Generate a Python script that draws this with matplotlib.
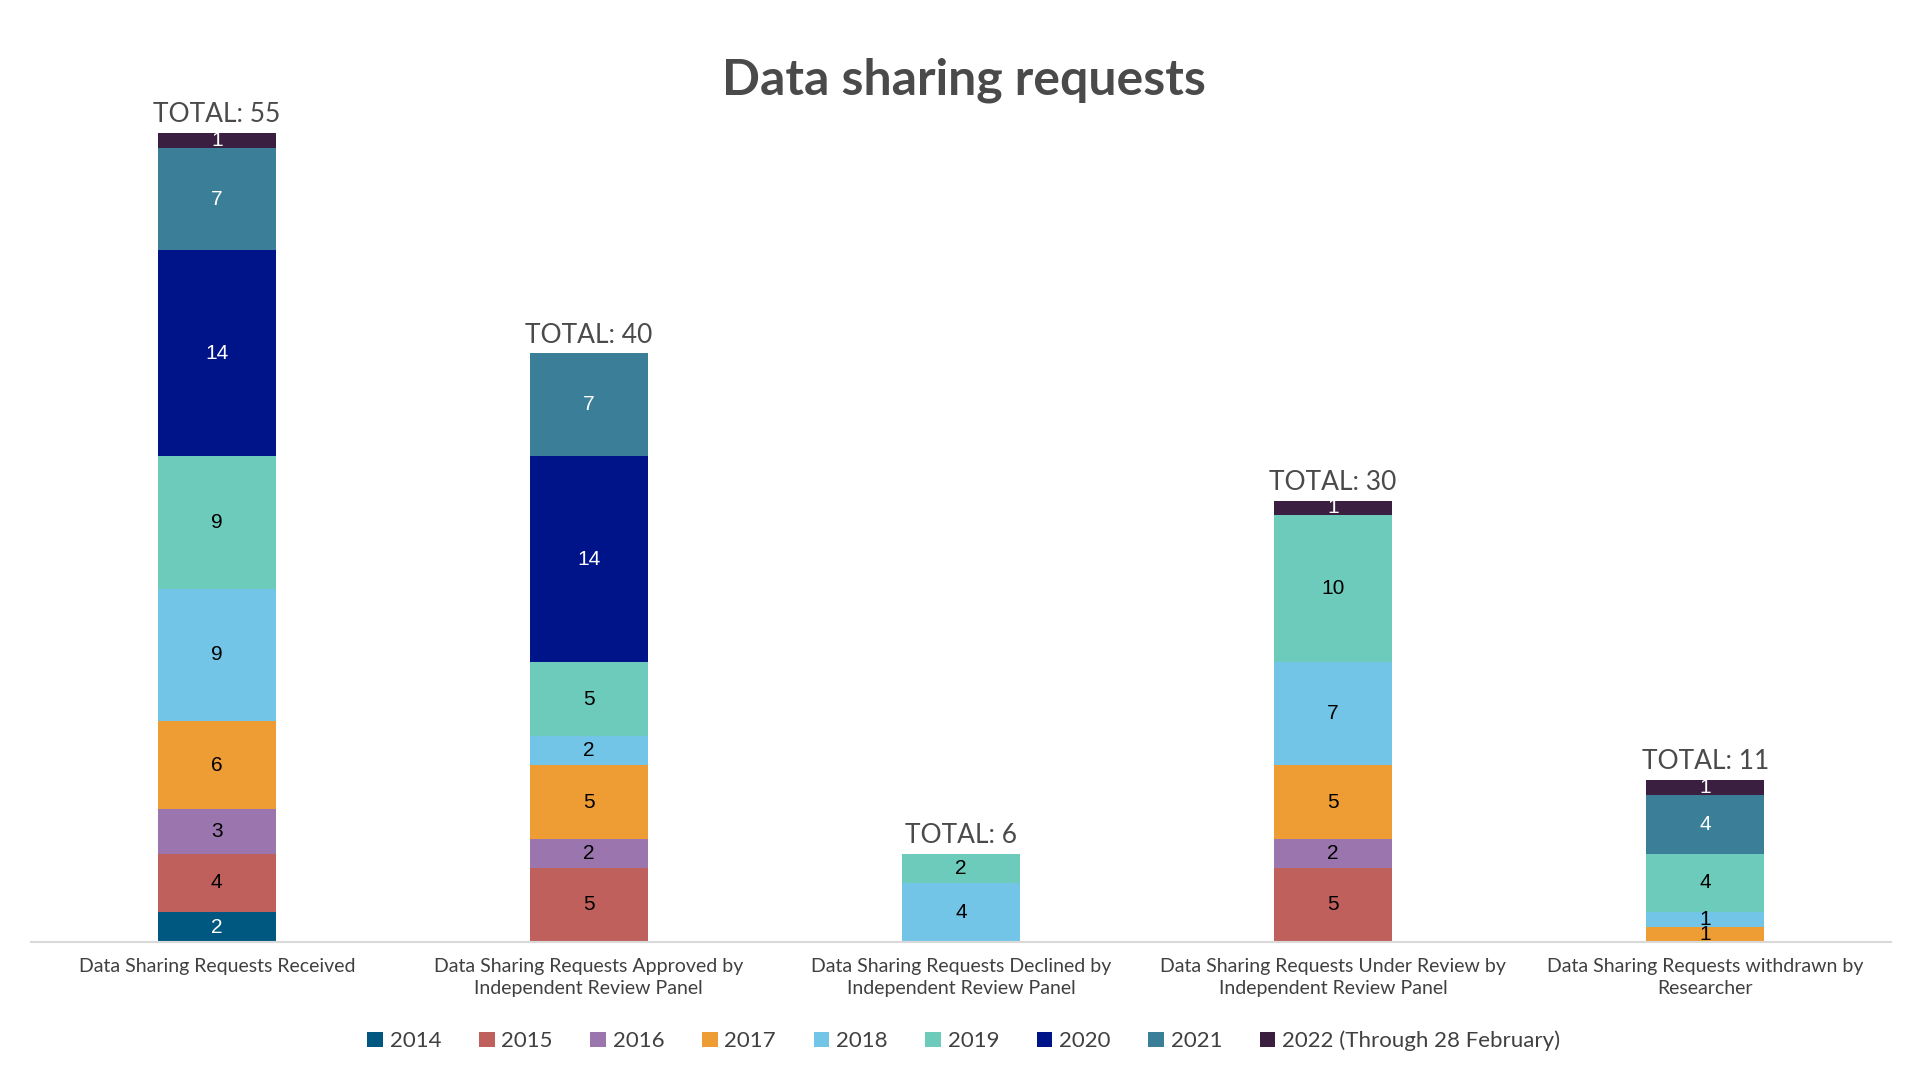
import matplotlib
matplotlib.use('Agg')
import matplotlib.pyplot as plt
import numpy as np

# ---------------------------------------------------------
# data
# ---------------------------------------------------------
categories = [
    'Data Sharing Requests Received',
    'Data Sharing Requests Approved by\nIndependent Review Panel',
    'Data Sharing Requests Declined by\nIndependent Review Panel',
    'Data Sharing Requests Under Review by\nIndependent Review Panel',
    'Data Sharing Requests withdrawn by\nResearcher',
]
years = ['2014', '2015', '2016', '2017', '2018', '2019', '2020', '2021',
         '2022 (Through 28 February)']

v2014 = [2, 0, 0, 0, 0]
v2015 = [4, 5, 0, 5, 0]
v2016 = [3, 2, 0, 2, 0]
v2017 = [6, 5, 0, 5, 1]
v2018 = [9, 2, 4, 7, 1]
v2019 = [9, 5, 2, 10, 4]
v2020 = [14, 14, 0, 0, 0]
v2021 = [7, 7, 0, 0, 4]
v2022 = [1, 0, 0, 1, 1]

series = [v2014, v2015, v2016, v2017, v2018, v2019, v2020, v2021, v2022]
colors = ['#00577F', '#C0605C', '#9B76AE', '#EE9C34', '#73C5E8',
          '#6DCBBB', '#001489', '#3A7F97', '#3A1F40']
label_colors = ['white', 'black', 'black', 'black', 'black',
                'black', 'white', 'white', 'white']

# ---------------------------------------------------------
# plot
# ---------------------------------------------------------
fig = plt.figure(figsize=(19.2, 10.8), dpi=100)
ax = fig.add_axes([0.016, 0.128, 0.969, 0.764])

x = np.arange(len(categories))
width = 0.316
bottom = np.zeros(len(categories))

for vals, col, lc, yr in zip(series, colors, label_colors, years):
    vals = np.array(vals, dtype=float)
    ax.bar(x, vals, width, bottom=bottom, color=col, label=yr)
    for xi, b, v in zip(x, bottom, vals):
        if v > 0:
            ax.text(xi, b + v / 2, f'{int(v)}', ha='center', va='center',
                    fontsize=15, color=lc, family='Liberation Sans')
    bottom += vals

for xi, tot in zip(x, bottom):
    ax.text(xi, tot + 0.4, f'TOTAL: {int(tot)}', ha='center', va='bottom',
            fontsize=19, color='#4A4A4A', family='Lato')

ax.set_xlim(-0.5, 4.5)
ax.set_ylim(0, 56.1)
ax.set_yticks([])
ax.set_xticks(x)
ax.set_xticklabels(categories, fontsize=14, color='#404040', family='Lato',
                   linespacing=1.3)
ax.tick_params(axis='x', length=0, pad=12)
for s in ['top', 'right', 'left']:
    ax.spines[s].set_visible(False)
ax.spines['bottom'].set_color('#D9D9D9')
ax.spines['bottom'].set_linewidth(1.5)

fig.text(0.502, 0.926, 'Data sharing requests', ha='center', va='center',
         fontsize=36, fontweight='bold', color='#4A4A4A', family='Lato')

fig.legend(loc='center', bbox_to_anchor=(0.502, 0.036), ncol=9, frameon=False,
           prop={'family': 'Lato', 'size': 16}, handlelength=0.7,
           handleheight=0.7, handletextpad=0.3, columnspacing=1.7,
           labelcolor='#404040')

plt.savefig('out.png', dpi=100)
